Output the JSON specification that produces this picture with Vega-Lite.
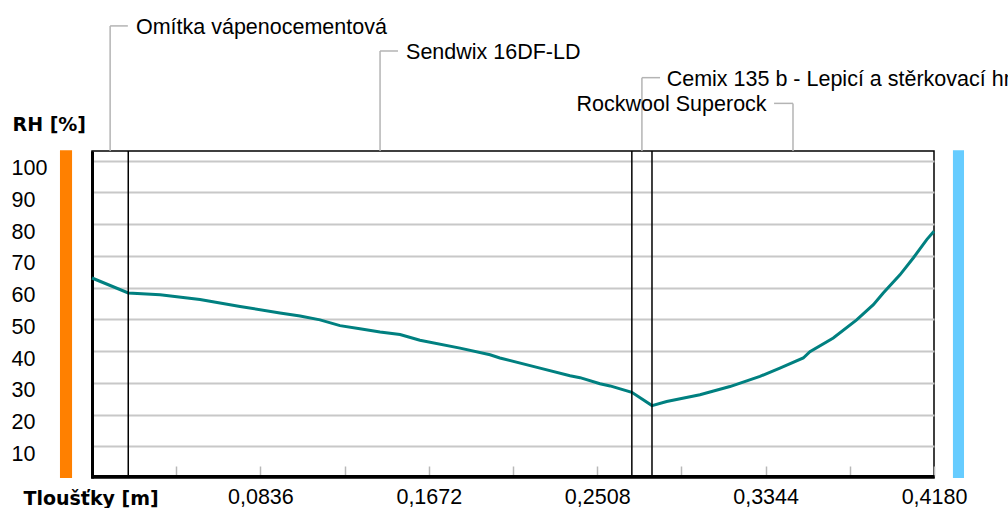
{
  "$schema": "https://vega.github.io/schema/vega-lite/v6.json",
  "width": 842,
  "height": 327,
  "autosize": {"type": "none"},
  "padding": {"left": 92, "top": 151, "right": 74, "bottom": 30},
  "background": "white",
  "config": {
    "font": "Liberation Sans",
    "view": {"stroke": "#000000", "strokeWidth": 1.5},
    "axis": {"labelOverlap": false, "labelFlush": false}
  },
  "datasets": {
    "profil": [
      {"x": 0, "rh": 63.0},
      {"x": 0.018, "rh": 58.3},
      {"x": 0.0338, "rh": 57.7},
      {"x": 0.0536, "rh": 56.2},
      {"x": 0.0735, "rh": 54.0},
      {"x": 0.0933, "rh": 52.0},
      {"x": 0.1033, "rh": 51.0},
      {"x": 0.1132, "rh": 49.8},
      {"x": 0.1231, "rh": 48.0},
      {"x": 0.133, "rh": 47.0},
      {"x": 0.143, "rh": 46.0},
      {"x": 0.1529, "rh": 45.2},
      {"x": 0.1628, "rh": 43.4},
      {"x": 0.1827, "rh": 40.9},
      {"x": 0.1976, "rh": 38.8},
      {"x": 0.2025, "rh": 37.8},
      {"x": 0.2224, "rh": 34.6},
      {"x": 0.2373, "rh": 32.2},
      {"x": 0.2423, "rh": 31.6},
      {"x": 0.2522, "rh": 29.7},
      {"x": 0.2572, "rh": 29.0},
      {"x": 0.268, "rh": 27.0},
      {"x": 0.278, "rh": 22.8},
      {"x": 0.2853, "rh": 24.1},
      {"x": 0.3018, "rh": 26.2},
      {"x": 0.3167, "rh": 28.8},
      {"x": 0.3316, "rh": 32.0},
      {"x": 0.3415, "rh": 34.6},
      {"x": 0.3531, "rh": 37.8},
      {"x": 0.3564, "rh": 39.8},
      {"x": 0.368, "rh": 44.1},
      {"x": 0.3796, "rh": 49.8},
      {"x": 0.3879, "rh": 54.6},
      {"x": 0.3928, "rh": 58.3},
      {"x": 0.4011, "rh": 64.0},
      {"x": 0.4077, "rh": 69.3},
      {"x": 0.4144, "rh": 75.1},
      {"x": 0.418, "rh": 77.7}
    ],
    "vrstvy": [
      {"vrstva": "Omítka vápenocementová", "zacatek": 0, "konec": 0.018, "stred": 0.009, "popisek_y": 142.4, "h_od": 0.009, "h_do": 0.0178, "text_x": 0.0218},
      {"vrstva": "Sendwix 16DF-LD", "zacatek": 0.018, "konec": 0.268, "stred": 0.143, "popisek_y": 134.5, "h_od": 0.143, "h_do": 0.1519, "text_x": 0.1559},
      {"vrstva": "Cemix 135 b - Lepicí a stěrkovací hmota", "zacatek": 0.268, "konec": 0.278, "stred": 0.273, "popisek_y": 126.1, "h_od": 0.273, "h_do": 0.282, "text_x": 0.2853},
      {"vrstva": "Rockwool Superock", "zacatek": 0.278, "konec": 0.418, "stred": 0.348, "popisek_y": 118.0, "h_od": 0.3386, "h_do": 0.348, "text_x": 0.3349}
    ],
    "okraje": [
      {"strana": "interiér", "x1": -0.0159, "x2": -0.0099, "y1": 0, "y2": 103.2},
      {"strana": "exteriér", "x1": 0.4274, "x2": 0.4329, "y1": 0, "y2": 103.2}
    ]
  },
  "layer": [
    {
      "data": {"name": "profil"},
      "mark": {"type": "line", "color": "#008080", "strokeWidth": 3},
      "encoding": {
        "x": {
          "field": "x",
          "type": "quantitative",
          "scale": {"domain": [0, 0.418], "nice": false, "zero": false},
          "axis": {
            "title": "Tloušťky [m]",
            "titleFont": "DejaVu Sans",
            "titleFontWeight": "bold",
            "titleFontSize": 19,
            "titleColor": "#000000",
            "titleAlign": "left",
            "titleAnchor": "start",
            "titleBaseline": "alphabetic",
            "titleX": -69,
            "titleY": 28,
            "values": [0.0418, 0.0836, 0.1254, 0.1672, 0.209, 0.2508, 0.2926, 0.3344, 0.3762, 0.418],
            "tickCount": 40,
            "labelExpr": "round(datum.value / 0.0418) % 2 == 0 ? replace(format(datum.value, '.4f'), '.', ',') : ''",
            "labelFont": "Liberation Sans",
            "labelFontSize": 21.5,
            "labelColor": "#000000",
            "labelBaseline": "alphabetic",
            "labelFlush": false,
            "labelOverlap": false,
            "labelPadding": 37,
            "offset": -2,
            "domain": true,
            "domainColor": "#000000",
            "domainWidth": 3,
            "ticks": true,
            "tickSize": -10,
            "tickColor": "#b8b8b8",
            "tickWidth": 1.5,
            "grid": false
          }
        },
        "y": {
          "field": "rh",
          "type": "quantitative",
          "scale": {"domain": [0, 103], "nice": false, "zero": true},
          "axis": {
            "title": "RH [%]",
            "titleFont": "DejaVu Sans",
            "titleFontWeight": "bold",
            "titleFontSize": 19,
            "titleColor": "#000000",
            "titleAngle": 0,
            "titleAlign": "left",
            "titleAnchor": "start",
            "titleBaseline": "alphabetic",
            "titleX": -80,
            "titleY": -21,
            "values": [10, 20, 30, 40, 50, 60, 70, 80, 90, 100],
            "tickCount": 40,
            "labelFont": "Liberation Sans",
            "labelFontSize": 21.5,
            "labelColor": "#000000",
            "labelAlign": "left",
            "labelBaseline": "alphabetic",
            "labelOffset": 14,
            "labelPadding": 81,
            "labelOverlap": false,
            "labelFlush": false,
            "ticks": false,
            "tickSize": 0,
            "domain": true,
            "domainColor": "#000000",
            "domainWidth": 3,
            "grid": true,
            "gridColor": "#c8c8c8",
            "gridWidth": 2
          }
        }
      }
    },
    {
      "data": {"name": "okraje"},
      "mark": {"type": "rect"},
      "encoding": {
        "x": {"field": "x1", "type": "quantitative"},
        "x2": {"field": "x2"},
        "y": {"field": "y1", "type": "quantitative"},
        "y2": {"field": "y2"},
        "color": {
          "field": "strana",
          "type": "nominal",
          "scale": {"domain": ["interiér", "exteriér"], "range": ["#ff8000", "#66ccff"]},
          "legend": null
        }
      }
    },
    {
      "data": {"name": "vrstvy"},
      "transform": [{"filter": "datum.konec < 0.418"}],
      "mark": {"type": "rule", "color": "#000000", "strokeWidth": 1.5},
      "encoding": {
        "x": {"field": "konec", "type": "quantitative"},
        "y": {"datum": 0, "type": "quantitative"},
        "y2": {"datum": 103}
      }
    },
    {
      "data": {"name": "vrstvy"},
      "mark": {"type": "rule", "color": "#b4b4b4", "strokeWidth": 1.5},
      "encoding": {
        "x": {"field": "stred", "type": "quantitative"},
        "y": {"field": "popisek_y", "type": "quantitative"},
        "y2": {"datum": 103}
      }
    },
    {
      "data": {"name": "vrstvy"},
      "mark": {"type": "rule", "color": "#b4b4b4", "strokeWidth": 1.5},
      "encoding": {
        "x": {"field": "h_od", "type": "quantitative"},
        "x2": {"field": "h_do"},
        "y": {"field": "popisek_y", "type": "quantitative"}
      }
    },
    {
      "data": {"name": "vrstvy"},
      "transform": [{"filter": "datum.vrstva != 'Rockwool Superock'"}],
      "mark": {"type": "text", "align": "left", "baseline": "alphabetic", "dy": 8, "fontSize": 21.5, "font": "Liberation Sans", "color": "#000000"},
      "encoding": {
        "x": {"field": "text_x", "type": "quantitative"},
        "y": {"field": "popisek_y", "type": "quantitative"},
        "text": {"field": "vrstva"}
      }
    },
    {
      "data": {"name": "vrstvy"},
      "transform": [{"filter": "datum.vrstva == 'Rockwool Superock'"}],
      "mark": {"type": "text", "align": "right", "baseline": "alphabetic", "dy": 8, "fontSize": 21.5, "font": "Liberation Sans", "color": "#000000"},
      "encoding": {
        "x": {"field": "text_x", "type": "quantitative"},
        "y": {"field": "popisek_y", "type": "quantitative"},
        "text": {"field": "vrstva"}
      }
    }
  ]
}
